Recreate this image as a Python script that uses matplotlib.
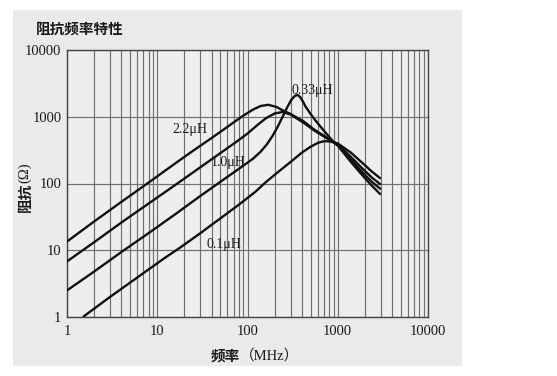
import matplotlib
matplotlib.use("Agg")
import matplotlib.pyplot as plt
from matplotlib.ticker import LogLocator, NullFormatter

# ---------------- data ----------------
title = "阻抗频率特性"
xlabel_cn = "频率"
xlabel_unit = "（MHz）"
ylabel_cn = "阻抗"
ylabel_unit = "(Ω)"

x_ticks = [1, 10, 100, 1000, 10000]
x_tick_labels = ["1", "10", "100", "1000", "10000"]
y_ticks = [1, 10, 100, 1000, 10000]
y_tick_labels = ["1", "10", "100", "1000", "10000"]

series_names = ["2.2μH", "1.0μH", "0.33μH", "0.1μH"]

f_22 = [1, 2, 4, 8, 15, 25, 40, 55, 70, 90, 115, 140, 170, 210, 245, 300, 420, 550, 750, 900, 1000, 1400, 1900, 2400, 3000]
z_22 = [13.5, 27, 53, 103, 190, 310, 480, 650, 820, 1040, 1280, 1450, 1510, 1400, 1250, 1100, 850, 640, 490, 415, 370, 210, 130, 92, 68]

f_10 = [1, 2, 4, 8, 16, 30, 50, 75, 100, 130, 160, 200, 245, 300, 420, 550, 750, 900, 1000, 1400, 1900, 2400, 3000]
z_10 = [6.8, 13.2, 26, 50, 96, 175, 285, 420, 560, 760, 950, 1120, 1180, 1080, 810, 620, 480, 412, 375, 228, 145, 105, 82]

f_033 = [1, 2, 4, 8, 16, 30, 57, 90, 115, 140, 165, 190, 215, 245, 275, 305, 335, 360, 385, 410, 440, 500, 570, 650, 750, 900, 1000, 1400, 1900, 2400, 3000]
z_033 = [2.5, 4.8, 9.4, 18, 35, 65, 120, 185, 235, 300, 390, 520, 700, 1000, 1380, 1780, 2060, 2120, 1960, 1700, 1420, 1100, 870, 700, 555, 420, 385, 250, 165, 122, 96]

f_01 = [1.5, 3, 6, 12, 18, 30, 50, 80, 122, 160, 220, 300, 400, 500, 600, 700, 800, 900, 1000, 1400, 1900, 2400, 3000]
z_01 = [1.0, 2.0, 3.9, 7.6, 11, 18, 30, 48, 75, 105, 150, 210, 290, 355, 405, 430, 428, 415, 398, 290, 200, 150, 118]

# label anchor points (data coordinates)
label_pos = {"2.2μH": (23, 655), "1.0μH": (61, 203), "0.33μH": (519, 2515), "0.1μH": (55, 12)}

# ---------------- figure ----------------
W, H = 557, 376
fig = plt.figure(figsize=(W / 100, H / 100), dpi=100)
fig.patch.set_facecolor("white")

# scanned-paper background (a bottom-most axes)
bg = fig.add_axes([13 / W, 1 - 366 / H, (462 - 13) / W, (366 - 10) / H], zorder=-5)
bg.set_facecolor("#eaeaea")
bg.set_xticks([])
bg.set_yticks([])
for s in bg.spines.values():
    s.set_visible(False)

ax = fig.add_axes([67 / W, 1 - 317 / H, (428 - 67) / W, (317 - 50) / H], zorder=1)
ax.set_facecolor("#eeeeee")
ax.set_xscale("log")
ax.set_yscale("log")
ax.set_xlim(1, 10000)
ax.set_ylim(1, 10000)

ax.xaxis.set_minor_locator(LogLocator(base=10, subs=range(2, 10), numticks=20))
ax.xaxis.set_minor_formatter(NullFormatter())
ax.yaxis.set_minor_locator(LogLocator(base=10, subs=[], numticks=20))
ax.yaxis.set_minor_formatter(NullFormatter())

ax.set_xticks(x_ticks)
ax.set_xticklabels(x_tick_labels)
ax.set_yticks(y_ticks)
ax.set_yticklabels(y_tick_labels)

ax.grid(True, which="major", axis="both", color="#707070", linewidth=0.85)
ax.grid(True, which="minor", axis="x", color="#707070", linewidth=0.85)
ax.tick_params(which="both", length=0)
ax.tick_params(axis="y", pad=4)
ax.tick_params(axis="x", pad=6)
for lab in ax.get_xticklabels() + ax.get_yticklabels():
    lab.set_fontfamily("Liberation Serif")
    lab.set_fontsize(10.5)
    lab.set_color("#1a1a1a")
for s in ax.spines.values():
    s.set_color("#444444")
    s.set_linewidth(1.0)

for f, z in [(f_22, z_22), (f_10, z_10), (f_033, z_033), (f_01, z_01)]:
    ax.plot(f, z, color="#111111", linewidth=1.7, solid_capstyle="butt",
            solid_joinstyle="round", zorder=3)

for name in series_names:
    x, y = label_pos[name]
    ax.text(x, y, name, fontfamily="Liberation Serif", fontsize=10,
            color="#1a1a1a", ha="center", va="center", zorder=4)

cjk = ["Noto Sans CJK SC", "DejaVu Sans"]
serif = ["Liberation Serif", "Noto Sans CJK SC"]

fig.text(36 / W, 1 - 29 / H, title, fontfamily=cjk, fontweight="bold",
         fontsize=10.5, color="#1a1a1a", ha="left", va="center")

fig.text(240 / W, 1 - 356 / H, xlabel_cn, fontfamily=cjk, fontweight="bold",
         fontsize=10.5, color="#1a1a1a", ha="right", va="center")
fig.text(240 / W, 1 - 356 / H, xlabel_unit, fontfamily=serif,
         fontsize=10.5, color="#1a1a1a", ha="left", va="center")

fig.text(25 / W, 1 - 183 / H, ylabel_cn, fontfamily=cjk, fontweight="bold",
         fontsize=10.5, color="#1a1a1a", ha="center", va="top", rotation=90)
fig.text(25 / W, 1 - 183 / H, ylabel_unit, fontfamily=serif,
         fontsize=10.5, color="#1a1a1a", ha="center", va="bottom", rotation=90)

fig.savefig("out.png", dpi=100)
